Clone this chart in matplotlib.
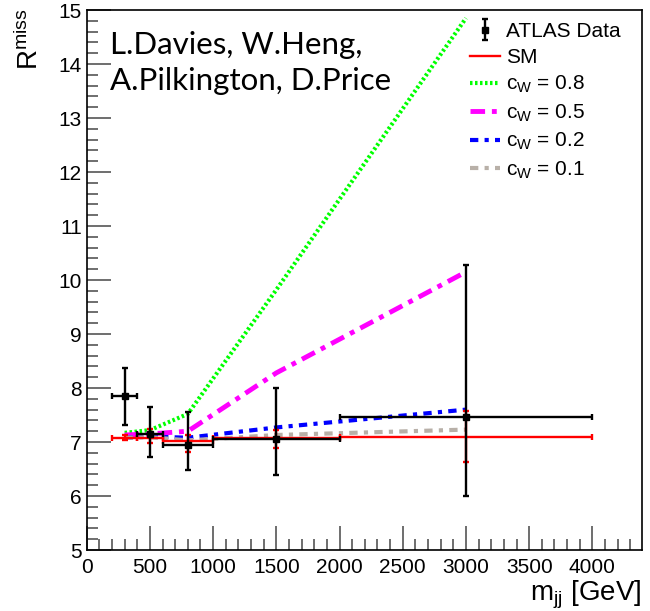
import matplotlib
matplotlib.use('Agg')
import matplotlib.pyplot as plt
import numpy as np

# bins in m_jj [GeV]
mjj = np.array([300, 500, 800, 1500, 3000])
bin_lo = np.array([200, 400, 600, 1000, 2000])
bin_hi = np.array([400, 600, 1000, 2000, 4000])

# ATLAS data
data_y = np.array([7.85, 7.15, 6.95, 7.05, 7.46])
data_up = np.array([8.38, 7.65, 7.55, 8.00, 10.28])
data_dn = np.array([7.32, 6.72, 6.49, 6.39, 6.00])

# SM prediction
sm_y = np.array([7.08, 7.08, 7.02, 7.07, 7.10])
sm_up = np.array([7.13, 7.24, 7.13, 7.22, 7.58])
sm_dn = np.array([7.03, 6.98, 6.82, 6.89, 6.63])

# BSM curves
cw_labels = ['0.8', '0.5', '0.2', '0.1']
cw08 = np.array([7.17, 7.22, 7.52, 9.82, 14.85])
cw05 = np.array([7.13, 7.15, 7.20, 8.28, 10.15])
cw02 = np.array([7.08, 7.10, 7.08, 7.27, 7.60])
cw01 = np.array([7.08, 7.09, 7.03, 7.13, 7.23])

plt.rcParams['font.family'] = ['Liberation Sans', 'DejaVu Sans']
plt.rcParams['mathtext.fontset'] = 'custom'
plt.rcParams['mathtext.rm'] = 'Liberation Sans'
plt.rcParams['mathtext.it'] = 'Liberation Sans:italic'

fig = plt.figure(figsize=(6.5, 6.11), dpi=100)
ax = fig.add_axes([0.1334, 0.0998, 0.9872 - 0.1334, 0.9836 - 0.0998])

l08, = ax.plot(mjj, cw08, color='#00ff00', lw=3, linestyle=(0, (0.6, 0.6)))
l05, = ax.plot(mjj, cw05, color='#ff00ff', lw=3.5, linestyle=(0, (3, 1.4, 1, 1.4)))
l02, = ax.plot(mjj, cw02, color='#0000ff', lw=3, linestyle=(0, (2, 1.5, 1, 1.5)))
l01, = ax.plot(mjj, cw01, color='#b8b0a8', lw=3, linestyle=(0, (2, 1.5, 1, 1.5)))

ax.errorbar(mjj, sm_y, xerr=[mjj - bin_lo, bin_hi - mjj],
            yerr=[sm_y - sm_dn, sm_up - sm_y], fmt='none', ecolor='red',
            elinewidth=1.7, capsize=2, capthick=1.7)
ax.errorbar(mjj, data_y, xerr=[mjj - bin_lo, bin_hi - mjj],
            yerr=[data_y - data_dn, data_up - data_y], fmt='s', color='black',
            ms=5, elinewidth=1.7, capsize=2, capthick=1.7)

# legend proxies
h_data = ax.errorbar([np.nan], [np.nan], yerr=[1], fmt='s', color='black',
                     ms=5, elinewidth=1.7, capsize=2, capthick=1.7)
h_sm, = ax.plot([], [], color='red', lw=1.7)
handles = [h_data, h_sm, l08, l05, l02, l01]
labels = ['ATLAS Data', 'SM'] + ['c$_{\\mathrm{W}}$ = ' + c for c in cw_labels]
ax.legend(handles, labels, loc='upper left', bbox_to_anchor=(0.69, 0.978),
          frameon=False, fontsize=15, handlelength=1.45, handletextpad=0.3,
          labelspacing=0.34, borderaxespad=0, borderpad=0)

ax.set_xlim(0, 4390)
ax.set_ylim(5, 15)
ax.set_xticks(np.arange(0, 4001, 500))
ax.set_xticks(np.arange(0, 4390, 100), minor=True)
ax.set_yticks(np.arange(5, 16, 1))
ax.set_yticks(np.arange(5, 15.01, 0.2), minor=True)
ax.tick_params(which='both', direction='in', top=False, right=False,
               labelsize=15, color='#555555')
ax.tick_params(which='major', length=17, width=1.2)
ax.tick_params(which='minor', length=8, width=1.2)
ax.tick_params(axis='x', pad=6)
for s in ax.spines.values():
    s.set_linewidth(1.2)

fig.text(641.7 / 650, 1 - 595 / 611, r'm$_{\mathrm{jj}}$ [GeV]', fontsize=20,
         ha='right', va='center')
fig.text(30 / 650, 1 - 8 / 611, r'R$^{\mathrm{miss}}$', fontsize=20,
         ha='center', va='top', rotation=90)

ax.text(0.042, 0.962, 'L.Davies, W.Heng,\nA.Pilkington, D.Price',
        transform=ax.transAxes, fontsize=22.5, family='Lato', ha='left',
        va='top', linespacing=1.38)

fig.savefig('out.png', dpi=100)
